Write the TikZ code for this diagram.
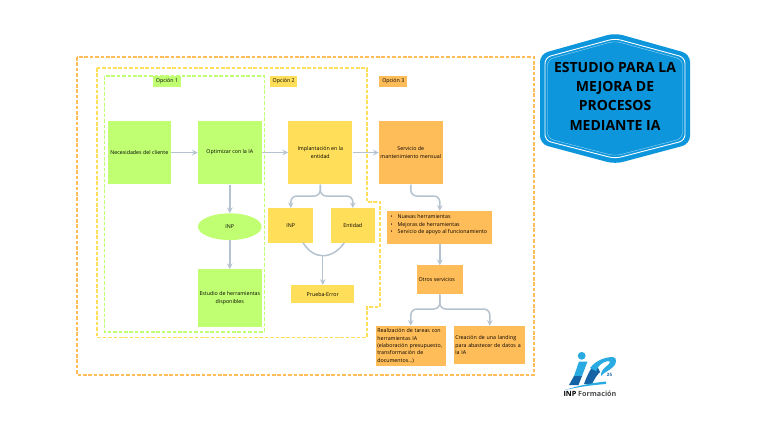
\documentclass[tikz,border=0pt]{standalone}
\usepackage{fontspec}
\setmainfont{Open Sans}
\usetikzlibrary{arrows,positioning,shapes}

\definecolor{optgreen}{HTML}{C1FF72}
\definecolor{optyellow}{HTML}{FFDE59}
\definecolor{optorange}{HTML}{FFBD59}
\definecolor{connblue}{HTML}{B5C3D0}
\definecolor{badgeblue}{HTML}{0D96DC}
\definecolor{logolight}{HTML}{29ABE2}
\definecolor{logodark}{HTML}{1464A5}

\tikzset{
  box/.style={minimum width=#1,inner sep=1pt,align=center,font=\fontsize{5.3}{7.4}\selectfont},
  conn/.style={draw=connblue,line width=1.5pt,-stealth,rounded corners=6pt},
  plainconn/.style={draw=connblue,line width=1.5pt},
  frame/.style={line width=1.6pt,dash pattern=on 3.6pt off 1.8pt},
}

\begin{document}
\begin{tikzpicture}[x=1pt,y=-1pt]
    \useasboundingbox (0,0) rectangle (768,432);

    % frames
    \draw[frame,draw=optorange] (77,57) rectangle (534,375);
    \draw[frame,draw=optyellow] (96.7,68) -- (366.7,68) -- (366.7,201.7) -- (380,201.7) -- (380,306.7) -- (366.7,306.7) -- (366.7,337.3) -- (96.7,337.3) -- cycle;
    \draw[frame,draw=optgreen] (104.3,76) rectangle (264.3,331.7);

    % option tags
    \node[box=27.4pt,fill=optgreen,minimum height=10.7pt] (opt1) at (167,81.3) {Opción 1};
    \node[box=27.4pt,fill=optyellow,minimum height=10.7pt] (opt2) at (283.7,81.3) {Opción 2};
    \node[box=28pt,fill=optorange,minimum height=10.7pt] (opt3) at (393.3,81.3) {Opción 3};

    % first row
    \node[box=63.5pt,fill=optgreen,minimum height=63.6pt] (need) at (139.4,152.5) {Necesidades del cliente};
    \node[box=63.7pt,fill=optgreen,minimum height=63.6pt] (optim) at (229.8,152.5) {Optimizar con la IA};
    \node[box=64pt,fill=optyellow,minimum height=63.6pt] (impl) at (320.3,152.5) {Implantación en la\\entidad};
    \node[box=63.7pt,fill=optorange,minimum height=63.6pt] (serv) at (410.8,152.5) {Servicio de\\mantenimiento mensual};

    % option 1
    \node[box=63.7pt,ellipse,fill=optgreen,minimum height=26.7pt,inner sep=0pt] (inpell) at (229.8,226.7) {INP};
    \node[box=63.7pt,fill=optgreen,minimum height=58pt] (study) at (229.8,298.3) {Estudio de herramientas\\disponibles};

    % option 2
    \node[box=45pt,fill=optyellow,minimum height=34.4pt] (inpbox) at (290.8,225.5) {INP};
    \node[box=44.3pt,fill=optyellow,minimum height=34.4pt] (ent) at (352.8,225.5) {Entidad};
    \node[box=63.3pt,fill=optyellow,minimum height=18.3pt] (trial) at (322.7,294.2) {Prueba-Error};

    % option 3
    \node[box=105pt,fill=optorange,minimum height=33pt] (list) at (439.8,227.5) {};
    \node[right,inner sep=0pt,align=left,font=\fontsize{5.3}{7.4}\selectfont] (listtext) at (390.5,225) {\textbullet\hspace{5pt}Nuevas herramientas\\\textbullet\hspace{5pt}Mejoras de herramientas\\\textbullet\hspace{5pt}Servicio de apoyo al funcionamiento};
    \node[box=45.7pt,fill=optorange,minimum height=28.7pt,align=left] (other) at (439.8,279.7) {Otros servicios\hspace{6pt}};
    \node[box=69.7pt,fill=optorange,minimum height=40pt,text width=67pt,align=left] (task) at (410.8,345.8) {Realización de tareas con\\herramientas IA\\(elaboración presupuesto,\\transformación de\\documentos…)};
    \node[box=71pt,fill=optorange,minimum height=38.3pt,text width=69pt,align=left] (land) at (489.8,345.1) {Creación de una landing\\para abastecer de datos a\\la IA};

    % split points
    \coordinate (implsplit) at (320.3,196);
    \coordinate (servsplit) at (425,196);
    \coordinate (othersplit) at (439.8,309);
    \coordinate (inpfoot) at (303,242.7);
    \coordinate (entfoot) at (344.3,242.7);
    \coordinate (trialjoin) at (322.7,255.7);

    \foreach \from/\to in {need/optim,optim/impl,impl/serv,optim/inpell,inpell/study,list/other}
    \draw[conn] (\from)--(\to);

    \foreach \from/\to/\split in {impl/inpbox/implsplit,impl/ent/implsplit,other/task/othersplit,other/land/othersplit}
    \draw[conn] (\from.south)--(\split)-|(\to.north);

    \draw[conn] (serv.south)|-(servsplit)-|(list.north);

    \draw[plainconn] (inpfoot) .. controls (309,252) and (316,255.7) .. (trialjoin) .. controls (330,255.7) and (338,252) .. (entfoot);
    \draw[conn] (trialjoin)--(trial.north);

    % badge
    \fill[badgeblue,rounded corners=8pt] (615,33) -- (690,54) -- (690,144) -- (615,164) -- (540,144) -- (540,54) -- cycle;
    \draw[white,line width=.9pt,rounded corners=6pt] (615,38.5) -- (685,57.5) -- (685,140.5) -- (615,158.5) -- (545,140.5) -- (545,57.5) -- cycle;
    \draw[white!70!badgeblue,line width=.3pt,rounded corners=6pt] (615,41) -- (682.5,59.5) -- (682.5,138.5) -- (615,156) -- (547.5,138.5) -- (547.5,59.5) -- cycle;
    \node[align=center,inner sep=0pt,font=\fontsize{14}{19.3}\selectfont\bfseries] (title) at (615,96) {ESTUDIO PARA LA\\MEJORA DE\\PROCESOS\\MEDIANTE IA};

    % logo
    \fill[logolight] (581.7,355.8) circle (3.9);
    \fill[logolight] (579,361.5) -- (587.5,361.5) -- (582,376) -- (574,376) -- cycle;
    \fill[logodark] (574,376) -- (582,376) -- (578.5,385) -- (569,385) -- cycle;
    \fill[logodark] (584,384) .. controls (587,376) and (590,368) .. (596,364) -- (600,372) .. controls (596,376) and (594,380) .. (592,384) -- cycle;
    \fill[logolight] (590,368) .. controls (596,360) and (606,357) .. (613,357) .. controls (617,357) and (617,364) .. (613,367) .. controls (609,371) and (604,372) .. (601,376) .. controls (600,372) and (604,368) .. (609,364) .. controls (611,362) and (610,361) .. (608,361) .. controls (602,362) and (598,366) .. (596,371) -- cycle;
    \fill[logolight] (565,390) .. controls (580,385) and (595,382.5) .. (606,381.5) -- (606,384) .. controls (592,385) and (578,387) .. (565,390) -- cycle;
    \node[inner sep=0pt,text=logodark,font=\fontsize{4.5}{4.5}\selectfont\bfseries] (logo25) at (609.5,374.5) {25};
    \node[inner sep=0pt,font=\fontsize{7.2}{7.2}\selectfont] (logotext) at (590,393.5) {\textbf{INP} \textcolor{black!70}{\textbf{Formación}}};
\end{tikzpicture}
\end{document}
